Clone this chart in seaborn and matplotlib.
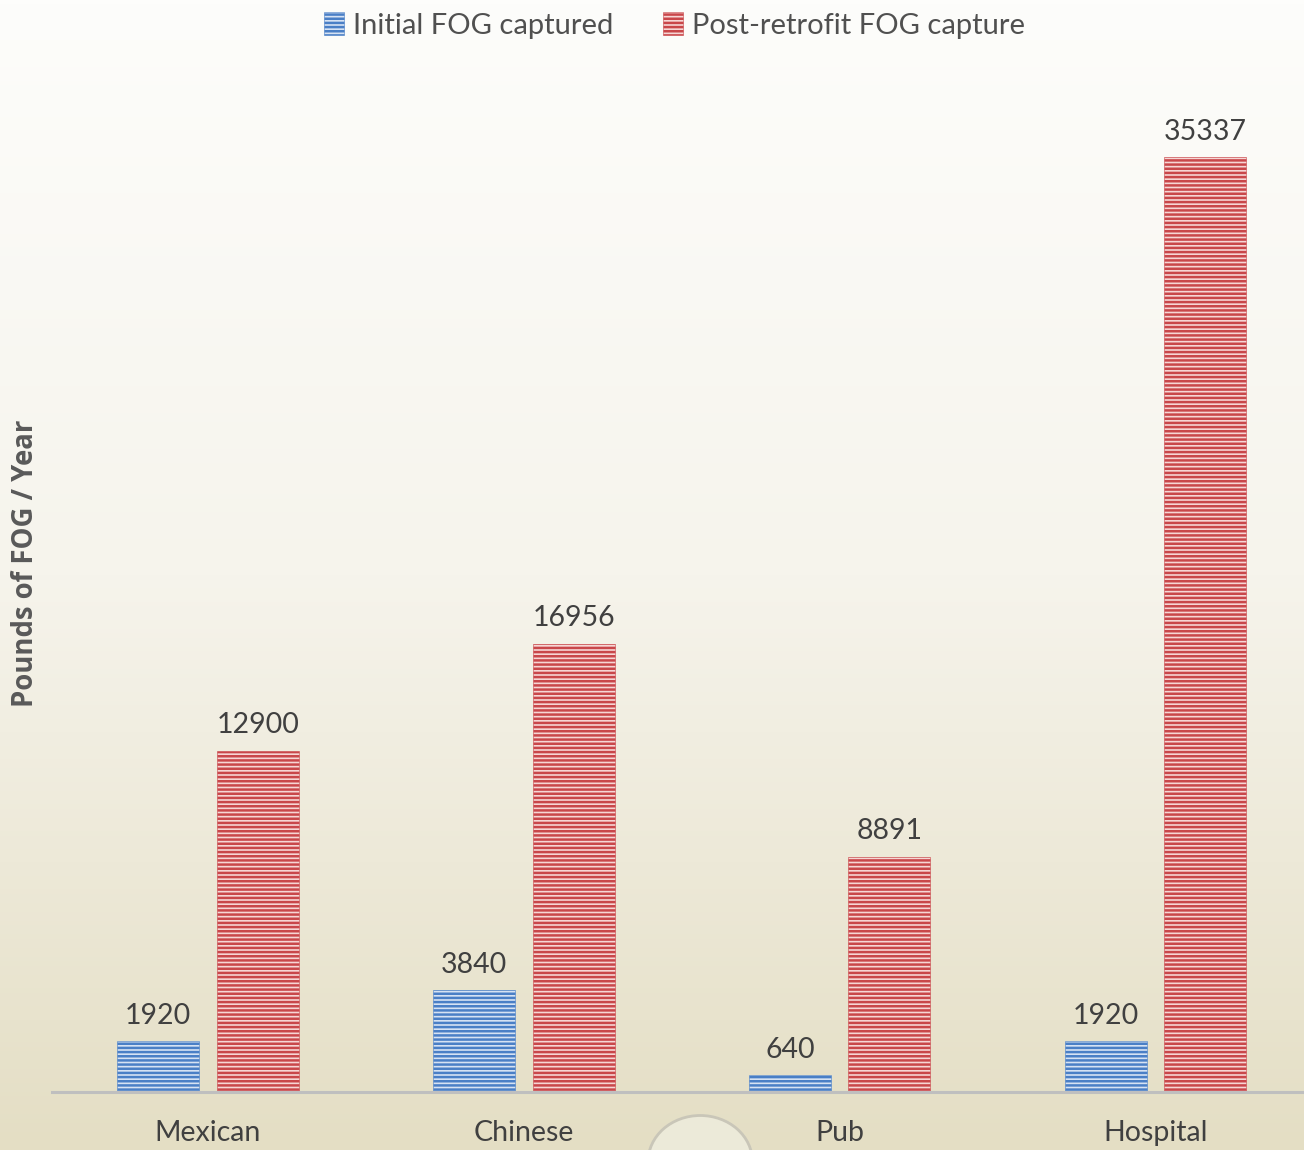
import numpy as np
import pandas as pd
import seaborn as sns
import matplotlib.pyplot as plt
from matplotlib.colors import LinearSegmentedColormap
from matplotlib.patches import Circle

# --- donnees ---
categories = ["Mexican", "Chinese", "Pub", "Hospital"]
initial = [1920, 3840, 640, 1920]
post_retrofit = [12900, 16956, 8891, 35337]
series = ["Initial FOG captured", "Post-retrofit FOG capture"]

df = pd.DataFrame({
    "type": categories * 2,
    "serie": [series[0]] * 4 + [series[1]] * 4,
    "lbs": initial + post_retrofit,
})

sns.set_theme(style="white")
plt.rcParams['font.family'] = ['Lato', 'DejaVu Sans']
plt.rcParams['hatch.linewidth'] = 1.8

fig = plt.figure(figsize=(13.04, 11.5), dpi=100)

# fond en degrade
bg = fig.add_axes([0, 0, 1, 1], zorder=-10)
grad = np.linspace(0, 1, 256).reshape(-1, 1)
cmap = LinearSegmentedColormap.from_list("bg", ["#fdfdfb", "#f6f4ec", "#e4dec4"])
bg.imshow(grad, aspect="auto", cmap=cmap, extent=[0, 1, 0, 1], origin="upper")
bg.add_patch(Circle((0.537, -0.01), 0.04, transform=bg.transAxes, facecolor="#ecead9",
                    edgecolor="#c9c6b8", lw=2, zorder=2))
bg.set_axis_off()

ax = fig.add_axes([52 / 1304, 1 - 1092 / 1150, 1 - 52 / 1304, 1005 / 1150])
ax.patch.set_alpha(0)

sns.barplot(data=df, x="type", y="lbs", hue="serie", ax=ax, width=0.63, gap=0.175,
            palette=["#4f81bd", "#c0504d"], saturation=1)

faces = {0: "#d6e2f3", 1: "#f6d6d5"}
hatchc = {0: "#4a7fc6", 1: "#c9474a"}
for i, cont in enumerate(ax.containers):
    for p in cont.patches:
        p.set_facecolor(faces[i])
        p.set_edgecolor(hatchc[i])
        p.set_hatch("----")
        p.set_linewidth(0.4)
    ax.bar_label(cont, padding=9, fontsize=20.5, color="#404040")

ax.set_xlim(-0.494, 3.47)
ax.set_ylim(0, 38000)
ax.set_yticks([])
ax.set_xlabel("")
ax.set_ylabel("Pounds of FOG / Year", fontsize=19.8, fontweight="bold", color="#595959",
              family=["Open Sans", "DejaVu Sans"])
ax.yaxis.set_label_coords(-0.0096, 0.526)
ax.tick_params(axis="x", labelsize=20.5, colors="#404040", length=0, pad=20)
for s in ["top", "right", "left"]:
    ax.spines[s].set_visible(False)
ax.spines["bottom"].set_color("#bfbfbf")
ax.spines["bottom"].set_linewidth(2.2)

handles = [ax.containers[0].patches[0], ax.containers[1].patches[0]]
ax.get_legend().remove()
fig.legend(handles, series, loc="upper center", bbox_to_anchor=(0.517, 1.012), ncol=2,
           frameon=False, fontsize=21, handlelength=0.7, handleheight=0.8,
           handletextpad=0.3, columnspacing=1.7, labelcolor="#505050")

fig.savefig("out.png", dpi=100)
